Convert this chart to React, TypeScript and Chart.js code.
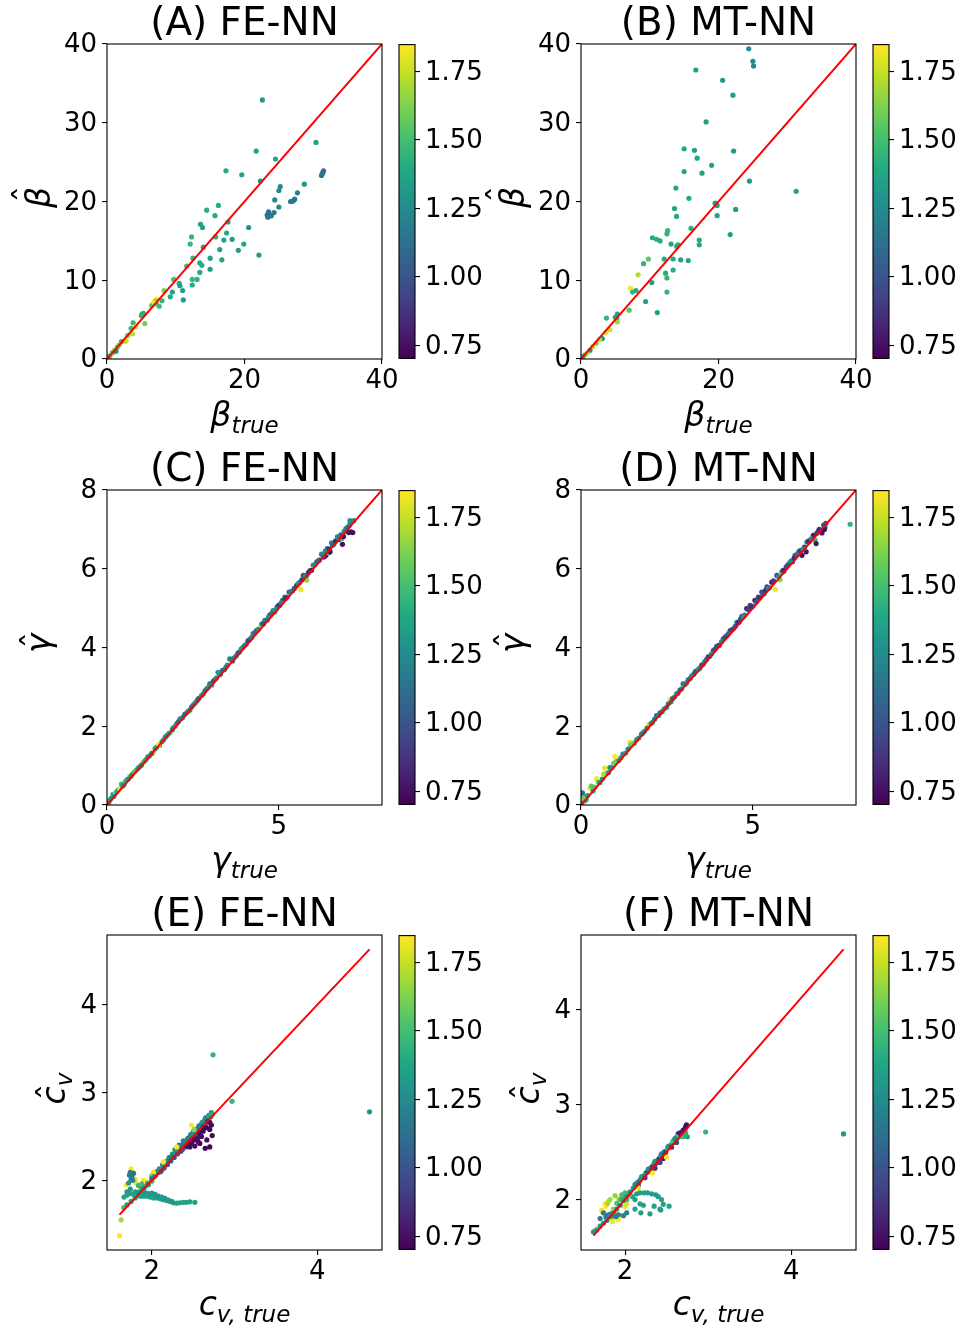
import { useEffect, useRef } from 'react';
import { Chart, registerables } from 'chart.js';

Chart.register(...registerables);

type Pt = [number, number, number]; // [true value, predicted value, colour value]

// (A) FE-NN, beta
const feBeta: Pt[] = [
  [22.6, 32.9, 1.3], [21.7, 26.4, 1.35], [24.5, 25.4, 1.38], [17.3, 23.9, 1.4], [19.6, 23.4, 1.36],
  [22.3, 22.6, 1.3], [30.4, 27.5, 1.35], [31.5, 23.9, 1.12], [31.4, 23.7, 1.12], [31.3, 23.5, 1.14],
  [31.2, 23.3, 1.13], [28.7, 22.2, 1.3], [25.2, 21.9, 1.25], [25.0, 21.4, 1.24], [27.7, 21.1, 1.2],
  [27.3, 20.3, 1.16], [27.1, 20.1, 1.15], [26.9, 20.0, 1.16], [26.7, 20.0, 1.15], [24.4, 20.2, 1.25],
  [25.0, 19.3, 1.26], [23.5, 18.7, 1.14], [23.3, 18.3, 1.15], [23.7, 18.2, 1.14], [23.9, 18.2, 1.15],
  [23.4, 18.0, 1.16], [24.3, 18.6, 1.17], [16.2, 19.5, 1.4], [14.5, 18.9, 1.42], [15.7, 18.2, 1.4],
  [17.6, 17.4, 1.35], [13.6, 17.1, 1.36], [13.9, 16.7, 1.37], [12.3, 15.5, 1.46], [15.8, 15.5, 1.42],
  [17.4, 16.0, 1.38], [20.6, 16.7, 1.3], [17.0, 15.1, 1.36], [18.2, 15.2, 1.32], [12.1, 14.6, 1.45],
  [16.4, 13.9, 1.36], [19.1, 13.8, 1.32], [19.9, 14.6, 1.4], [22.1, 13.2, 1.34], [14.0, 14.2, 1.36],
  [12.5, 12.8, 1.46], [16.7, 12.6, 1.36], [15.0, 12.8, 1.35], [13.5, 12.2, 1.4], [13.8, 11.9, 1.41],
  [11.6, 11.8, 1.47], [15.0, 11.4, 1.35], [13.5, 11.0, 1.4], [12.4, 10.1, 1.46], [13.1, 10.1, 1.45],
  [12.4, 9.4, 1.4], [9.7, 10.1, 1.5], [10.5, 9.6, 1.36], [10.6, 9.3, 1.35], [11.0, 8.7, 1.36],
  [9.5, 8.5, 1.35], [9.2, 7.9, 1.4], [11.1, 7.5, 1.34], [8.3, 8.7, 1.62], [8.0, 7.4, 1.45],
  [7.2, 7.6, 1.82], [7.0, 7.3, 1.5], [7.2, 7.0, 1.52], [7.6, 6.7, 1.48], [5.5, 4.5, 1.6],
  [5.1, 5.7, 1.45], [5.0, 5.5, 1.44], [5.3, 5.8, 1.42], [3.8, 4.6, 1.46], [3.5, 3.9, 1.5],
  [3.7, 3.2, 1.72], [4.2, 4.1, 1.78], [3.0, 3.0, 1.62], [2.8, 2.4, 1.82], [2.7, 2.25, 1.75],
  [2.1, 2.2, 1.45], [1.8, 1.8, 1.6], [1.5, 1.5, 1.55], [1.1, 1.15, 1.7], [0.8, 0.8, 1.5],
  [0.5, 0.5, 1.65], [0.3, 0.3, 1.45], [1.3, 1.0, 1.2], [6.5, 6.8, 1.55], [6.8, 7.2, 1.8],
];

// (B) MT-NN, beta
const mtBeta: Pt[] = [
  [24.4, 39.4, 1.25], [25.0, 37.8, 1.25], [25.1, 37.2, 1.22], [16.7, 36.7, 1.35], [20.6, 35.4, 1.3],
  [22.1, 33.5, 1.35], [18.2, 30.1, 1.35], [15.0, 26.7, 1.38], [16.5, 26.5, 1.36], [22.2, 26.4, 1.3],
  [16.9, 25.5, 1.36], [19.0, 24.6, 1.36], [15.0, 23.8, 1.38], [17.6, 23.6, 1.35], [24.5, 22.6, 1.3],
  [13.8, 21.7, 1.4], [31.3, 21.3, 1.35], [15.7, 20.4, 1.4], [19.5, 19.8, 1.35], [13.6, 19.1, 1.36],
  [22.5, 19.0, 1.32], [13.9, 18.1, 1.4], [19.8, 18.2, 1.36], [16.0, 16.6, 1.42], [12.6, 16.3, 1.46],
  [12.5, 15.9, 1.45], [21.7, 15.8, 1.35], [10.4, 15.4, 1.4], [11.0, 15.2, 1.42], [11.5, 15.0, 1.41],
  [17.2, 15.1, 1.4], [17.2, 14.5, 1.38], [13.1, 14.6, 1.36], [13.9, 14.3, 1.45], [12.1, 12.7, 1.4],
  [13.4, 12.7, 1.4], [9.8, 12.7, 1.55], [14.5, 12.6, 1.36], [15.6, 12.5, 1.36], [9.1, 12.1, 1.45],
  [13.4, 11.3, 1.4], [12.3, 10.9, 1.4], [8.3, 10.7, 1.72], [12.5, 10.3, 1.45], [10.3, 9.7, 1.35],
  [7.2, 9.0, 1.85], [7.5, 8.5, 1.45], [8.0, 8.7, 1.42], [12.5, 8.5, 1.45], [9.4, 7.3, 1.35],
  [11.1, 5.9, 1.35], [7.0, 6.2, 1.55], [3.7, 5.2, 1.45], [5.0, 5.3, 1.35], [5.3, 5.7, 1.36],
  [5.2, 5.1, 1.4], [5.3, 4.7, 1.68], [4.2, 3.7, 1.78], [3.6, 3.4, 1.8], [3.1, 2.6, 1.3],
  [2.7, 2.5, 1.72], [2.2, 2.0, 1.6], [1.7, 1.6, 1.75], [1.3, 1.1, 1.25], [0.9, 0.75, 1.7],
  [0.5, 0.5, 1.55], [0.3, 0.3, 1.45], [14.1, 14.5, 1.4], [19.8, 19.5, 1.33],
];

// (C) FE-NN, gamma
const feGamma: Pt[] = [
  [0.05, 0.06, 1.4], [0.12, 0.17, 1.3], [0.17, 0.27, 1.45], [0.25, 0.3, 1.8], [0.32, 0.38, 1.3],
  [0.42, 0.53, 1.5], [0.5, 0.52, 1.35], [0.58, 0.64, 1.25], [0.66, 0.74, 1.8], [0.75, 0.8, 1.35],
  [0.85, 0.88, 1.45], [0.95, 0.97, 1.3], [1.05, 1.08, 1.6], [1.14, 1.16, 1.3], [1.24, 1.25, 1.35],
  [1.35, 1.34, 1.8], [1.45, 1.47, 1.25], [1.53, 1.52, 1.3], [1.65, 1.66, 1.4], [1.75, 1.77, 1.3],
  [1.85, 1.84, 1.8], [1.92, 1.95, 1.25], [2.03, 2.07, 1.2], [2.12, 2.18, 1.3], [2.2, 2.22, 1.15],
  [2.32, 2.34, 1.35], [2.41, 2.41, 1.25], [2.52, 2.55, 1.2], [2.62, 2.65, 1.1], [2.7, 2.72, 1.8],
  [2.8, 2.82, 1.3], [2.9, 2.95, 1.2], [2.99, 3.08, 1.1], [3.05, 3.05, 1.35], [3.13, 3.18, 1.25],
  [3.23, 3.37, 1.3], [3.3, 3.32, 1.05], [3.42, 3.44, 1.2], [3.5, 3.55, 1.3], [3.57, 3.71, 1.25],
  [3.65, 3.66, 1.0], [3.76, 3.79, 1.2], [3.86, 3.89, 1.3], [3.95, 4.0, 1.1], [4.05, 4.08, 1.25],
  [4.15, 4.2, 1.05], [4.25, 4.35, 1.25], [4.35, 4.43, 1.0], [4.45, 4.5, 1.8], [4.5, 4.6, 1.3],
  [4.59, 4.69, 1.25], [4.66, 4.7, 1.05], [4.74, 4.82, 0.8], [4.83, 4.94, 1.25], [4.88, 4.9, 1.35],
  [4.95, 5.03, 1.0], [5.03, 5.07, 1.2], [5.11, 5.2, 0.95], [5.17, 5.28, 1.25], [5.24, 5.28, 1.1],
  [5.3, 5.41, 1.0], [5.4, 5.44, 1.25], [5.52, 5.58, 0.8], [5.61, 5.66, 1.25], [5.64, 5.47, 1.82],
  [5.71, 5.83, 1.0], [5.81, 5.83, 1.25], [5.81, 5.71, 1.65], [5.9, 5.95, 1.2], [5.95, 5.96, 0.78],
  [6.0, 6.09, 1.25], [6.1, 6.17, 1.0], [6.18, 6.22, 0.9], [6.24, 6.37, 1.25], [6.31, 6.3, 0.76],
  [6.37, 6.34, 0.76], [6.41, 6.51, 1.0], [6.45, 6.4, 1.5], [6.49, 6.43, 0.75], [6.53, 6.66, 1.25],
  [6.6, 6.62, 1.2], [6.7, 6.81, 1.25], [6.75, 6.74, 0.85], [6.83, 6.77, 1.45], [6.85, 6.62, 0.75],
  [6.9, 6.95, 1.25], [6.97, 6.98, 1.0], [7.03, 6.92, 0.76], [7.05, 7.1, 1.2], [7.07, 7.22, 1.25],
  [7.15, 6.92, 0.75], [7.12, 7.2, 1.25],
  [0.08, 0.12, 1.3], [0.2, 0.22, 1.25], [0.28, 0.33, 1.4], [0.37, 0.41, 1.8], [0.46, 0.48, 1.3],
  [0.54, 0.6, 1.45], [0.62, 0.66, 1.3], [0.7, 0.73, 1.25], [0.8, 0.84, 1.55], [0.9, 0.93, 1.3],
  [1.0, 1.01, 1.25], [1.1, 1.12, 1.45], [1.19, 1.22, 1.3], [1.3, 1.31, 1.2], [1.4, 1.43, 1.3],
  [1.5, 1.53, 1.8], [1.6, 1.61, 1.3], [1.7, 1.73, 1.25], [1.8, 1.82, 1.35], [1.9, 1.91, 1.2],
  [1.98, 2.0, 1.3], [2.08, 2.12, 1.15], [2.16, 2.2, 1.25], [2.26, 2.3, 1.1], [2.36, 2.38, 1.25],
  [2.46, 2.49, 1.15], [2.57, 2.6, 1.3], [2.66, 2.7, 1.05], [2.75, 2.78, 1.25], [2.85, 2.9, 1.15],
  [2.95, 2.99, 1.3], [3.09, 3.14, 1.0], [3.18, 3.22, 1.25], [3.27, 3.31, 1.3], [3.36, 3.42, 1.1],
  [3.46, 3.5, 1.25], [3.62, 3.7, 1.15], [3.7, 3.74, 1.25], [3.81, 3.86, 1.0], [3.9, 3.96, 1.3],
  [4.0, 4.05, 1.2], [4.1, 4.17, 0.95], [4.2, 4.25, 1.25], [4.3, 4.38, 1.1], [4.4, 4.46, 1.25],
  [4.55, 4.6, 0.95], [4.7, 4.77, 1.25], [4.79, 4.86, 1.1], [4.92, 4.97, 1.25], [5.0, 5.08, 0.9],
  [5.07, 5.14, 1.25], [5.2, 5.25, 0.85], [5.35, 5.42, 1.2], [5.45, 5.5, 1.0], [5.56, 5.62, 1.25],
  [5.67, 5.72, 0.9], [5.76, 5.82, 1.2], [5.86, 5.9, 0.85], [6.05, 6.1, 1.25], [6.14, 6.2, 1.1],
  [6.28, 6.33, 1.2], [6.35, 6.45, 1.25], [6.47, 6.5, 0.85], [6.56, 6.6, 1.1], [6.65, 6.7, 0.8],
  [6.72, 6.78, 1.25], [6.8, 6.86, 1.1], [6.88, 6.82, 0.76], [6.95, 7.02, 1.25], [7.0, 7.05, 1.1],
  [7.1, 6.94, 0.75], [7.18, 7.22, 1.25],
];

// (D) MT-NN, gamma
const mtGamma: Pt[] = [
  [0.04, 0.31, 1.1], [0.06, 0.22, 1.15], [0.11, 0.1, 1.5], [0.15, 0.14, 1.35], [0.26, 0.43, 1.82],
  [0.3, 0.48, 1.55], [0.35, 0.36, 1.3], [0.45, 0.67, 1.85], [0.5, 0.58, 1.6], [0.55, 0.57, 1.3],
  [0.69, 0.94, 1.82], [0.72, 0.8, 1.55], [0.8, 0.82, 1.35], [0.84, 0.95, 1.25], [0.99, 1.23, 1.85],
  [1.02, 1.1, 1.6], [1.1, 1.13, 1.3], [1.22, 1.29, 1.25], [1.3, 1.32, 1.35], [1.42, 1.59, 1.82],
  [1.45, 1.52, 1.55], [1.55, 1.57, 1.3], [1.68, 1.7, 1.35], [1.76, 1.8, 1.25], [1.85, 1.87, 1.3],
  [1.97, 2.04, 1.85], [2.0, 2.06, 1.8], [2.08, 2.1, 1.3], [2.2, 2.27, 1.05], [2.26, 2.27, 1.3],
  [2.36, 2.37, 1.25], [2.49, 2.48, 1.3], [2.59, 2.69, 1.85], [2.62, 2.62, 1.35], [2.72, 2.74, 1.25],
  [2.82, 2.84, 1.2], [2.93, 2.95, 1.3], [2.97, 3.08, 1.15], [3.07, 3.1, 1.3], [3.18, 3.22, 1.2],
  [3.28, 3.32, 1.05], [3.36, 3.41, 1.25], [3.46, 3.48, 1.0], [3.56, 3.58, 1.05], [3.65, 3.69, 1.0],
  [3.75, 3.78, 1.25], [3.85, 3.92, 0.95], [3.95, 4.03, 1.0], [4.03, 4.06, 1.2], [4.14, 4.22, 1.0],
  [4.24, 4.3, 1.05], [4.34, 4.43, 0.95], [4.44, 4.48, 1.25], [4.53, 4.64, 1.4], [4.6, 4.65, 1.05],
  [4.68, 4.79, 0.95], [4.76, 4.82, 1.2], [4.82, 4.99, 0.8], [4.92, 5.07, 0.95], [5.0, 5.05, 1.25],
  [5.06, 5.2, 0.8], [5.16, 5.28, 0.95], [5.26, 5.41, 0.95], [5.33, 5.37, 1.25], [5.41, 5.54, 0.95],
  [5.48, 5.52, 1.3], [5.55, 5.66, 0.8], [5.65, 5.48, 1.82], [5.7, 5.83, 0.95], [5.79, 5.72, 1.65],
  [5.84, 5.92, 1.45], [5.9, 5.93, 1.25], [5.97, 6.05, 0.95], [6.08, 6.17, 1.35], [6.15, 6.18, 0.9],
  [6.23, 6.34, 0.95], [6.33, 6.43, 1.25], [6.43, 6.34, 0.76], [6.5, 6.55, 0.9], [6.55, 6.43, 0.76],
  [6.57, 6.68, 1.25], [6.65, 6.7, 0.95], [6.76, 6.85, 0.78], [6.81, 6.73, 1.45], [6.84, 6.64, 0.76],
  [6.9, 6.95, 1.0], [6.96, 6.98, 1.25], [7.01, 6.91, 0.78], [7.06, 7.11, 0.95], [7.1, 7.05, 1.2],
  [7.83, 7.13, 1.45],
  [0.02, 0.05, 1.3], [0.08, 0.18, 1.6], [0.19, 0.24, 1.3], [0.4, 0.45, 1.5], [0.62, 0.66, 1.3],
  [0.66, 0.78, 1.7], [0.9, 0.95, 1.3], [0.95, 1.06, 1.6], [1.16, 1.2, 1.3], [1.37, 1.42, 1.25],
  [1.5, 1.55, 1.6], [1.62, 1.66, 1.3], [1.8, 1.83, 1.25], [1.92, 1.95, 1.2], [2.04, 2.07, 1.25],
  [2.14, 2.18, 1.2], [2.3, 2.34, 1.1], [2.42, 2.44, 1.3], [2.54, 2.57, 1.15], [2.66, 2.7, 1.1],
  [2.78, 2.82, 1.25], [2.88, 2.92, 1.05], [3.02, 3.06, 1.2], [3.12, 3.18, 1.1], [3.22, 3.28, 1.25],
  [3.32, 3.38, 1.0], [3.42, 3.45, 1.3], [3.51, 3.55, 1.0], [3.6, 3.64, 1.2], [3.7, 3.76, 0.95],
  [3.8, 3.84, 1.25], [3.9, 3.96, 1.0], [4.0, 4.05, 0.95], [4.09, 4.15, 1.25], [4.19, 4.26, 0.95],
  [4.29, 4.35, 1.1], [4.39, 4.45, 0.9], [4.49, 4.54, 1.0], [4.57, 4.63, 0.85], [4.64, 4.72, 1.0],
  [4.72, 4.78, 1.3], [4.87, 4.96, 0.95], [4.96, 5.03, 0.85], [5.1, 5.16, 1.0], [5.2, 5.27, 0.85],
  [5.3, 5.36, 1.0], [5.37, 5.45, 0.85], [5.45, 5.5, 1.25], [5.6, 5.69, 0.9], [5.75, 5.8, 1.3],
  [5.88, 5.96, 0.85], [6.02, 6.1, 1.0], [6.12, 6.2, 1.25], [6.2, 6.27, 0.85], [6.28, 6.36, 1.1],
  [6.38, 6.46, 0.9], [6.46, 6.5, 1.3], [6.62, 6.7, 0.85], [6.7, 6.76, 1.25], [6.86, 6.9, 0.9],
  [6.93, 7.0, 0.85], [7.08, 7.0, 0.75], [7.12, 7.15, 1.0],
];

// (E) FE-NN, c_v
const feCv: Pt[] = [
  [2.05, 2.06, 1.25], [2.08, 2.09, 1.15], [2.1, 2.12, 1.25], [2.12, 2.12, 1.1], [2.14, 2.16, 1.2],
  [2.16, 2.18, 1.3], [2.18, 2.19, 1.1], [2.2, 2.23, 1.25], [2.22, 2.24, 1.15], [2.24, 2.27, 1.3],
  [2.26, 2.28, 1.2], [2.28, 2.3, 1.05], [2.3, 2.33, 1.25], [2.32, 2.34, 1.1], [2.34, 2.37, 1.3],
  [2.36, 2.38, 1.15], [2.38, 2.41, 1.05], [2.4, 2.44, 1.25], [2.42, 2.45, 1.1], [2.44, 2.48, 1.3],
  [2.46, 2.49, 1.0], [2.48, 2.51, 1.2], [2.5, 2.55, 1.25], [2.52, 2.56, 1.1], [2.54, 2.58, 1.3],
  [2.56, 2.6, 1.15], [2.58, 2.62, 1.25], [2.6, 2.64, 1.35], [2.62, 2.66, 1.2], [2.64, 2.69, 1.25],
  [2.66, 2.7, 1.4], [2.68, 2.72, 1.3], [2.7, 2.74, 1.25], [2.72, 2.77, 1.28], [2.73, 2.75, 1.35],
  [2.35, 2.33, 0.95], [2.42, 2.4, 0.98], [2.48, 2.46, 1.0], [2.55, 2.52, 0.95], [2.28, 2.35, 1.2],
  [2.33, 2.4, 1.18], [2.38, 2.45, 1.22],
  [2.06, 2.1, 1.2], [2.09, 2.13, 1.3], [2.11, 2.1, 1.05], [2.13, 2.18, 1.25], [2.15, 2.14, 1.1],
  [2.17, 2.21, 1.3], [2.19, 2.18, 1.0], [2.21, 2.26, 1.2], [2.23, 2.22, 1.05], [2.25, 2.3, 1.25],
  [2.27, 2.26, 1.0], [2.29, 2.33, 1.3], [2.31, 2.3, 1.05], [2.33, 2.37, 1.25], [2.37, 2.35, 1.0],
  [2.39, 2.43, 1.2], [2.41, 2.38, 1.05], [2.43, 2.47, 1.25], [2.45, 2.43, 1.0], [2.47, 2.52, 1.2],
  [2.49, 2.47, 1.05], [2.51, 2.53, 1.3], [2.53, 2.5, 1.0], [2.57, 2.62, 1.2], [2.59, 2.57, 1.05],
  [2.61, 2.66, 1.3], [2.63, 2.61, 1.1], [2.65, 2.71, 1.25], [2.67, 2.66, 1.15], [2.69, 2.74, 1.35],
  [2.71, 2.72, 1.3], [2.72, 2.75, 1.4],
  // low-colour points under the diagonal
  [2.7, 2.38, 0.72], [2.645, 2.365, 0.72], [2.73, 2.51, 0.73], [2.7, 2.58, 0.72], [2.665, 2.46, 0.74],
  [2.58, 2.42, 0.72], [2.52, 2.39, 0.73], [2.46, 2.38, 0.74], [2.42, 2.39, 0.75], [2.625, 2.61, 0.72],
  [2.577, 2.54, 0.73], [2.68, 2.67, 0.74], [2.51, 2.46, 0.72], [2.46, 2.44, 0.75], [2.72, 2.63, 0.73],
  [2.6, 2.5, 0.74], [2.55, 2.48, 0.76], [2.62, 2.56, 0.73], [2.66, 2.6, 0.72], [2.56, 2.44, 0.74],
  [2.48, 2.42, 0.73], [2.7, 2.66, 0.75],
  // high-colour points
  [2.48, 2.63, 1.85], [2.51, 2.58, 1.65], [2.3, 2.38, 1.85], [2.14, 2.21, 1.85], [2.02, 2.09, 1.85],
  [1.75, 2.13, 1.85], [1.77, 2.09, 1.8], [1.8, 2.01, 1.82], [1.69, 1.95, 1.85], [1.81, 1.97, 1.8],
  [1.9, 2.0, 1.85], [1.85, 1.93, 1.85], [1.61, 1.37, 1.85], [1.63, 1.55, 1.68], [1.95, 1.98, 1.75],
  [2.0, 2.05, 1.6],
  [1.73, 2.06, 1.15], [1.76, 2.04, 1.15], [1.78, 2.08, 1.12], [1.75, 2.01, 1.2], [1.72, 1.97, 1.3],
  [1.74, 2.09, 1.18], [1.77, 2.0, 1.22],
  // lower branch
  [1.665, 1.81, 1.35], [1.7, 1.83, 1.36], [1.74, 1.85, 1.35], [1.78, 1.84, 1.37], [1.82, 1.83, 1.35],
  [1.86, 1.82, 1.36], [1.9, 1.82, 1.35], [1.94, 1.82, 1.37], [1.98, 1.81, 1.35], [2.02, 1.8, 1.36],
  [2.06, 1.8, 1.35], [2.1, 1.79, 1.36], [2.14, 1.78, 1.35], [2.18, 1.77, 1.37], [2.22, 1.76, 1.35],
  [2.26, 1.745, 1.36], [2.3, 1.74, 1.35], [2.34, 1.745, 1.34], [2.38, 1.75, 1.36], [2.42, 1.75, 1.35],
  [2.46, 1.755, 1.34], [2.52, 1.75, 1.35],
  [1.7, 1.87, 1.32], [1.74, 1.9, 1.3], [1.8, 1.87, 1.32], [1.84, 1.86, 1.3], [1.88, 1.85, 1.33],
  [1.92, 1.86, 1.3], [1.96, 1.85, 1.32], [2.0, 1.855, 1.3], [2.04, 1.84, 1.32], [2.08, 1.82, 1.3],
  [2.12, 1.81, 1.32], [2.16, 1.795, 1.3], [2.2, 1.775, 1.32], [2.24, 1.76, 1.3],
  [1.84, 1.94, 1.45], [1.88, 1.96, 1.5], [1.92, 1.93, 1.45], [1.96, 1.95, 1.4], [2.0, 1.99, 1.45],
  [1.88, 1.9, 1.4],
  [1.66, 1.69, 1.5], [1.7, 1.72, 1.35], [1.75, 1.76, 1.3], [1.8, 1.8, 1.35], [1.85, 1.87, 1.3],
  [1.9, 1.91, 1.25], [1.95, 1.96, 1.2], [2.0, 2.02, 1.15], [2.03, 2.04, 1.25],
  // isolated points
  [2.74, 3.43, 1.45], [2.97, 2.9, 1.45], [4.63, 2.78, 1.3],
];

// (F) MT-NN, c_v
const mtCv: Pt[] = [
  [2.1, 2.12, 1.3], [2.13, 2.15, 1.2], [2.15, 2.18, 1.4], [2.17, 2.19, 1.1], [2.19, 2.22, 1.3],
  [2.21, 2.24, 1.45], [2.23, 2.25, 1.0], [2.25, 2.28, 1.3], [2.27, 2.29, 0.95], [2.29, 2.32, 1.35],
  [2.31, 2.33, 1.1], [2.33, 2.35, 0.9], [2.35, 2.38, 1.3], [2.37, 2.38, 1.0], [2.39, 2.41, 1.25],
  [2.41, 2.43, 0.85], [2.43, 2.46, 1.35], [2.45, 2.46, 1.0], [2.47, 2.5, 1.3], [2.49, 2.5, 0.9],
  [2.51, 2.54, 1.45], [2.53, 2.55, 1.2], [2.55, 2.57, 1.0], [2.57, 2.6, 1.5], [2.59, 2.6, 1.3],
  [2.61, 2.63, 1.35], [2.63, 2.65, 0.85], [2.65, 2.66, 1.4], [2.67, 2.68, 1.3], [2.69, 2.71, 1.45],
  [2.71, 2.7, 1.35], [2.64, 2.69, 0.78], [2.68, 2.7, 0.76], [2.74, 2.785, 0.76], [2.72, 2.74, 0.8],
  [2.75, 2.66, 1.32], [2.73, 2.7, 1.45], [2.7, 2.66, 1.5], [2.36, 2.33, 0.85], [2.42, 2.39, 0.9],
  [2.46, 2.43, 0.8], [2.58, 2.62, 1.55], [2.62, 2.66, 1.5],
  [2.12, 2.16, 1.25], [2.16, 2.15, 1.05], [2.2, 2.24, 1.35], [2.24, 2.23, 0.95], [2.28, 2.32, 1.25],
  [2.32, 2.31, 0.9], [2.36, 2.4, 1.3], [2.4, 2.39, 0.95], [2.44, 2.48, 1.2], [2.48, 2.47, 0.85],
  [2.52, 2.56, 1.3], [2.56, 2.55, 0.9], [2.6, 2.64, 1.25], [2.62, 2.6, 0.95], [2.66, 2.7, 0.8],
  [2.7, 2.73, 0.78], [2.72, 2.68, 1.4], [2.73, 2.77, 0.75],
  [2.5, 2.445, 1.85], [2.33, 2.28, 1.85], [2.16, 2.12, 1.8],
  // loop below the diagonal
  [2.27, 2.07, 1.35], [2.32, 2.06, 1.35], [2.37, 2.05, 1.34], [2.4, 2.03, 1.35], [2.44, 2.0, 1.36],
  [2.46, 1.95, 1.35], [2.42, 1.9, 1.34], [2.35, 1.93, 1.35], [2.53, 1.93, 1.36], [2.43, 1.89, 1.35],
  [2.3, 1.85, 1.34], [2.19, 1.86, 1.35], [2.12, 1.9, 1.36], [2.22, 1.94, 1.35], [2.12, 2.0, 1.34],
  [2.18, 1.955, 1.35], [2.18, 2.07, 1.36], [2.09, 2.03, 1.35], [2.23, 2.07, 1.34], [2.14, 2.06, 1.35],
  // lower-left group
  [1.76, 1.955, 1.85], [1.77, 1.93, 1.85], [1.72, 1.885, 1.82], [1.84, 1.79, 1.85], [1.92, 1.79, 1.85],
  [1.64, 1.68, 1.85], [2.0, 1.93, 1.8], [1.92, 2.01, 1.85], [1.73, 1.87, 1.85], [1.85, 1.77, 1.82],
  [1.9, 1.85, 1.85], [2.02, 1.955, 1.8], [1.8, 1.98, 1.78],
  [1.82, 2.0, 1.68], [1.88, 2.04, 1.65], [1.79, 1.96, 1.7], [1.86, 1.9, 1.65],
  [1.96, 2.05, 1.5], [2.04, 2.06, 1.5], [1.9, 1.96, 1.52], [2.0, 2.07, 1.48], [2.06, 2.05, 1.5],
  [1.94, 2.0, 1.5], [1.98, 2.02, 1.47], [2.02, 2.0, 1.5],
  [1.74, 1.86, 1.18], [1.8, 1.84, 1.15], [1.86, 1.83, 1.2], [1.92, 1.84, 1.18], [1.98, 1.83, 1.2],
  [2.02, 1.86, 1.22], [1.7, 1.8, 1.2], [1.77, 1.82, 1.16], [1.83, 1.85, 1.18], [1.89, 1.82, 1.2],
  [1.62, 1.66, 1.3], [1.66, 1.68, 1.3], [1.7, 1.72, 1.32], [1.74, 1.75, 1.3], [1.78, 1.78, 1.28],
  [1.82, 1.82, 1.3], [1.86, 1.86, 1.32], [1.9, 1.9, 1.3], [1.94, 1.94, 1.28], [1.98, 1.99, 1.3],
  [2.02, 2.03, 1.3], [2.06, 2.08, 1.32],
  // isolated points
  [2.97, 2.71, 1.45], [4.63, 2.69, 1.3],
];

const betaXTicks = [0, 20, 40];
const betaYTicks = [0, 10, 20, 30, 40];
const gammaXTicks = [0, 5];
const gammaYTicks = [0, 2, 4, 6, 8];
const cvXTicks = [2, 4];
const cvYTicks = [2, 3, 4];
const colorTicks = [0.75, 1.0, 1.25, 1.5, 1.75];
const colorRange: [number, number] = [0.703, 1.848];

const betaDiagonal: [number, number] = [0, 40];
const gammaDiagonal: [number, number] = [0, 8];

const panelTitles = ['(A) FE-NN', '(B) MT-NN', '(C) FE-NN', '(D) MT-NN', '(E) FE-NN', '(F) MT-NN'];

const VIRIDIS = [
  '#440154', '#482475', '#414487', '#355f8d', '#2a788e', '#21918c',
  '#22a884', '#44bf70', '#7ad151', '#bddf26', '#fde725',
];

const FONT = '"DejaVu Sans", "Liberation Sans", sans-serif';

function hexToRgb(h: string): number[] {
  return [1, 3, 5].map((i) => parseInt(h.slice(i, i + 2), 16));
}

function viridis(v: number): string {
  const t = Math.max(0, Math.min(1, (v - colorRange[0]) / (colorRange[1] - colorRange[0])));
  const s = t * (VIRIDIS.length - 1);
  const i = Math.min(VIRIDIS.length - 2, Math.floor(s));
  const f = s - i;
  const a = hexToRgb(VIRIDIS[i]);
  const b = hexToRgb(VIRIDIS[i + 1]);
  const c = a.map((x, k) => Math.round(x + (b[k] - x) * f));
  return `rgb(${c[0]},${c[1]},${c[2]})`;
}

type Run = { text: string; size: number; dy?: number; italic?: boolean; hatRaise?: number };

// draws a row of text runs centred on (x, y); rotated labels read bottom-to-top
function drawRuns(ctx: CanvasRenderingContext2D, runs: Run[], x: number, y: number, rotate: boolean) {
  ctx.save();
  ctx.translate(x, y);
  if (rotate) ctx.rotate(-Math.PI / 2);
  ctx.fillStyle = '#000';
  ctx.textBaseline = 'alphabetic';
  const fontOf = (r: Run) => `${r.italic ? 'italic ' : ''}${r.size}px ${FONT}`;
  const widths = runs.map((r) => {
    ctx.font = fontOf(r);
    return ctx.measureText(r.text).width;
  });
  const total = widths.reduce((s, w) => s + w, 0);
  let cx = -total / 2;
  runs.forEach((r, i) => {
    ctx.font = fontOf(r);
    ctx.textAlign = 'left';
    ctx.fillText(r.text, cx, r.dy ?? 0);
    if (r.hatRaise !== undefined) {
      ctx.font = `${r.size}px ${FONT}`;
      ctx.textAlign = 'center';
      ctx.fillText('\u02C6', cx + widths[i] / 2 + r.size * 0.1, (r.dy ?? 0) - r.size * r.hatRaise);
    }
    cx += widths[i];
  });
  ctx.restore();
}

interface PanelSpec {
  title: string;
  points: Pt[];
  diag: [number, number];
  xRange: [number, number];
  yRange: [number, number];
  xTicks: number[];
  yTicks: number[];
  xLabel: Run[];
  yLabel: Run[];
  yLabelOffset: number;
  xLabelOffset: number;
  col: number;
  row: number;
}

const COL_LEFT = [107, 581];
const ROW_TOP = [44, 490, 935];
const PLOT_W = 275;
const PLOT_H = 315;
const TICK_FONT = 26;
const LABEL_FONT = 33;
const SUB_FONT = 23;
const TITLE_FONT = 38.9;

function paddedRange(values: number[]): [number, number] {
  const lo = Math.min(...values);
  const hi = Math.max(...values);
  const m = (hi - lo) * 0.05;
  return [lo - m, hi + m];
}

function cvSpec(points: Pt[]) {
  const xs = points.map((p) => p[0]);
  const ys = points.map((p) => p[1]);
  const diag: [number, number] = [Math.min(...xs), Math.max(...xs)];
  return {
    diag,
    xRange: paddedRange([...xs, ...diag]),
    yRange: paddedRange([...ys, ...diag]),
  };
}

const betaX: Run[] = [
  { text: 'β', size: LABEL_FONT, italic: true },
  { text: 'true', size: SUB_FONT, dy: 7, italic: true },
];
const betaY: Run[] = [{ text: 'β', size: LABEL_FONT, italic: true, hatRaise: 0.36 }];
const gammaX: Run[] = [
  { text: 'γ', size: LABEL_FONT, italic: true },
  { text: 'true', size: SUB_FONT, dy: 7, italic: true },
];
const gammaY: Run[] = [{ text: 'γ', size: LABEL_FONT, italic: true, hatRaise: 0.12 }];
const cvX: Run[] = [
  { text: 'c', size: LABEL_FONT, italic: true },
  { text: 'v, true', size: SUB_FONT, dy: 7, italic: true },
];
const cvY: Run[] = [
  { text: 'c', size: LABEL_FONT, italic: true, hatRaise: 0.1 },
  { text: 'v', size: SUB_FONT, dy: 7, italic: true },
];

const feCvSpec = cvSpec(feCv);
const mtCvSpec = cvSpec(mtCv);

const panels: PanelSpec[] = [
  { title: panelTitles[0], points: feBeta, diag: betaDiagonal, xRange: [0, 40], yRange: [0, 40], xTicks: betaXTicks, yTicks: betaYTicks, xLabel: betaX, yLabel: betaY, yLabelOffset: 57, xLabelOffset: 67, col: 0, row: 0 },
  { title: panelTitles[1], points: mtBeta, diag: betaDiagonal, xRange: [0, 40], yRange: [0, 40], xTicks: betaXTicks, yTicks: betaYTicks, xLabel: betaX, yLabel: betaY, yLabelOffset: 57, xLabelOffset: 67, col: 1, row: 0 },
  { title: panelTitles[2], points: feGamma, diag: gammaDiagonal, xRange: [0, 8], yRange: [0, 8], xTicks: gammaXTicks, yTicks: gammaYTicks, xLabel: gammaX, yLabel: gammaY, yLabelOffset: 57, xLabelOffset: 66, col: 0, row: 1 },
  { title: panelTitles[3], points: mtGamma, diag: gammaDiagonal, xRange: [0, 8], yRange: [0, 8], xTicks: gammaXTicks, yTicks: gammaYTicks, xLabel: gammaX, yLabel: gammaY, yLabelOffset: 57, xLabelOffset: 66, col: 1, row: 1 },
  { title: panelTitles[4], points: feCv, ...feCvSpec, xTicks: cvXTicks, yTicks: cvYTicks, xLabel: cvX, yLabel: cvY, yLabelOffset: 42, xLabelOffset: 65, col: 0, row: 2 },
  { title: panelTitles[5], points: mtCv, ...mtCvSpec, xTicks: cvXTicks, yTicks: cvYTicks, xLabel: cvX, yLabel: cvY, yLabelOffset: 42, xLabelOffset: 65, col: 1, row: 2 },
];

// canvas margins around the plotting area
const M_LEFT = 107;
const M_TOP = 44;
const M_RIGHT = 40;
const M_BOTTOM = 86;
const Y_AXIS_W = 60;
const X_AXIS_H = 50;

function axisOptions(range: [number, number], ticks: number[], isX: boolean) {
  return {
    type: 'linear' as const,
    min: range[0],
    max: range[1],
    afterBuildTicks: (scale: any) => {
      scale.ticks = ticks.map((v) => ({ value: v }));
    },
    afterFit: (scale: any) => {
      if (isX) scale.height = X_AXIS_H;
      else scale.width = Y_AXIS_W;
    },
    grid: { drawOnChartArea: false, drawTicks: true, tickLength: 5, color: '#000', lineWidth: 1.1 },
    border: { display: false },
    ticks: {
      color: '#000',
      font: { family: FONT, size: TICK_FONT },
      padding: isX ? 2 : 5,
      labelOffset: isX ? 0 : 1.5,
      autoSkip: false,
      maxRotation: 0,
      minRotation: 0,
      callback: (v: any) => String(v),
    },
  };
}

function ScatterPanel({ spec }: { spec: PanelSpec }) {
  const ref = useRef<HTMLCanvasElement>(null);
  const left = COL_LEFT[spec.col] - M_LEFT;
  const top = ROW_TOP[spec.row] - M_TOP;
  const width = M_LEFT + PLOT_W + M_RIGHT;
  const height = M_TOP + PLOT_H + M_BOTTOM;

  useEffect(() => {
    if (!ref.current) return;
    const decor = {
      id: 'panelDecor',
      afterDraw(chart: any) {
        const { ctx, chartArea: a } = chart;
        ctx.save();
        ctx.strokeStyle = '#000';
        ctx.lineWidth = 1.1;
        ctx.strokeRect(a.left, a.top, a.right - a.left, a.bottom - a.top);
        ctx.fillStyle = '#000';
        ctx.font = `${TITLE_FONT}px ${FONT}`;
        ctx.textAlign = 'center';
        ctx.textBaseline = 'alphabetic';
        const cx = (a.left + a.right) / 2;
        ctx.fillText(spec.title, cx, a.top - 9);
        ctx.restore();
        drawRuns(ctx, spec.xLabel, cx, a.bottom + spec.xLabelOffset, false);
        drawRuns(ctx, spec.yLabel, a.left - spec.yLabelOffset, (a.top + a.bottom) / 2 - 4, true);
      },
    };
    const chart = new Chart(ref.current, {
      type: 'scatter',
      data: {
        datasets: [
          {
            data: spec.diag.map((v) => ({ x: v, y: v })),
            showLine: true,
            borderColor: '#ff0000',
            borderWidth: 2,
            pointRadius: 0,
            order: 0,
          },
          {
            data: spec.points.map((p) => ({ x: p[0], y: p[1] })),
            pointBackgroundColor: spec.points.map((p) => viridis(p[2])),
            pointBorderWidth: 0,
            pointRadius: 2.6,
            order: 1,
          },
        ],
      },
      options: {
        animation: false,
        responsive: false,
        maintainAspectRatio: false,
        layout: {
          padding: { left: M_LEFT - Y_AXIS_W, top: M_TOP, right: M_RIGHT, bottom: M_BOTTOM - X_AXIS_H },
        },
        plugins: { legend: { display: false }, tooltip: { enabled: false }, title: { display: false } },
        scales: {
          x: axisOptions(spec.xRange, spec.xTicks, true),
          y: axisOptions(spec.yRange, spec.yTicks, false),
        },
      } as any,
      plugins: [decor],
    });
    return () => chart.destroy();
  }, [spec]);

  return (
    <canvas
      ref={ref}
      width={width}
      height={height}
      style={{ position: 'absolute', left, top, width, height }}
    />
  );
}

const CB_PAD_LEFT = 2;
const CB_W = 16;
const CB_AXIS_W = 74;
const CB_OFFSET = 290;

function ColorBar({ col, row }: { col: number; row: number }) {
  const ref = useRef<HTMLCanvasElement>(null);
  const left = COL_LEFT[col] + CB_OFFSET;
  const top = ROW_TOP[row] - 20;
  const width = CB_PAD_LEFT + CB_W + CB_AXIS_W;
  const height = PLOT_H + 40;

  useEffect(() => {
    if (!ref.current) return;
    const fill = {
      id: 'colorbarFill',
      beforeDatasetsDraw(chart: any) {
        const { ctx, chartArea: a } = chart;
        const g = ctx.createLinearGradient(0, a.bottom, 0, a.top);
        VIRIDIS.forEach((c, i) => g.addColorStop(i / (VIRIDIS.length - 1), c));
        ctx.save();
        ctx.fillStyle = g;
        ctx.fillRect(a.left, a.top, a.right - a.left, a.bottom - a.top);
        ctx.strokeStyle = '#000';
        ctx.lineWidth = 1.1;
        ctx.strokeRect(a.left, a.top, a.right - a.left, a.bottom - a.top);
        ctx.restore();
      },
    };
    const chart = new Chart(ref.current, {
      type: 'scatter',
      data: { datasets: [] },
      options: {
        animation: false,
        responsive: false,
        maintainAspectRatio: false,
        layout: { padding: { left: CB_PAD_LEFT, top: 20, bottom: 20, right: 0 } },
        plugins: { legend: { display: false }, tooltip: { enabled: false } },
        scales: {
          x: { display: false, min: 0, max: 1 },
          y: {
            position: 'right',
            min: colorRange[0],
            max: colorRange[1],
            afterBuildTicks: (scale: any) => {
              scale.ticks = colorTicks.map((v) => ({ value: v }));
            },
            afterFit: (scale: any) => {
              scale.width = CB_AXIS_W;
            },
            grid: { drawOnChartArea: false, drawTicks: true, tickLength: 5, color: '#000', lineWidth: 1.1 },
            border: { display: false },
            ticks: {
              color: '#000',
              font: { family: FONT, size: TICK_FONT },
              padding: 5,
              labelOffset: 1.5,
              autoSkip: false,
              callback: (v: any) => Number(v).toFixed(2),
            },
          },
        },
      } as any,
      plugins: [fill],
    });
    return () => chart.destroy();
  }, [col, row]);

  return (
    <canvas
      ref={ref}
      width={width}
      height={height}
      style={{ position: 'absolute', left, top, width, height }}
    />
  );
}

export default function App() {
  return (
    <div
      style={{
        position: 'absolute',
        left: 0,
        top: 0,
        width: 963,
        height: 1329,
        overflow: 'hidden',
        background: '#fff',
      }}
    >
      {panels.map((p, i) => (
        <ScatterPanel key={`p${i}`} spec={p} />
      ))}
      {panels.map((p, i) => (
        <ColorBar key={`c${i}`} col={p.col} row={p.row} />
      ))}
    </div>
  );
}
